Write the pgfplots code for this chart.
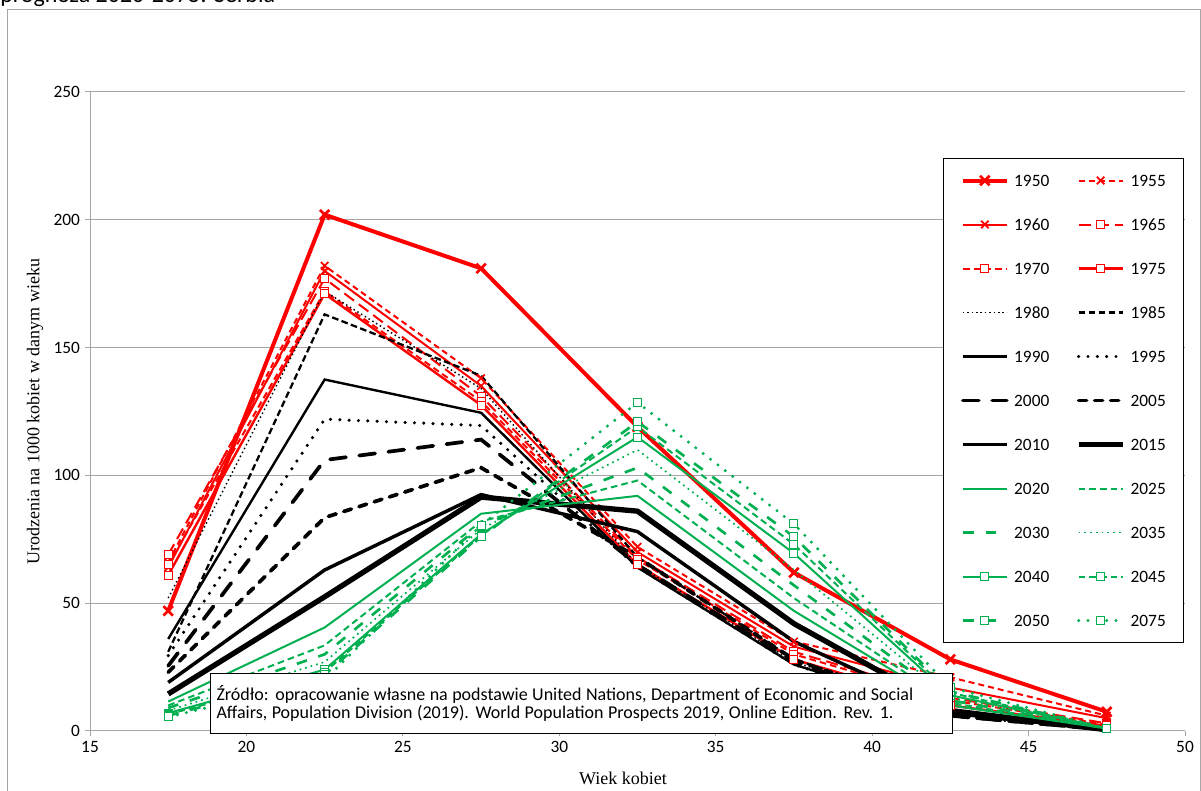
\documentclass[border=0pt]{standalone}
\usepackage{fontspec}
\setmainfont{Carlito}
\newfontfamily\timesf{Liberation Serif}
\usepackage{pgfplots}
\usepackage{pgfplotstable}
\pgfplotsset{compat=1.18}
\definecolor{exred}{HTML}{FF0000}
\definecolor{exgreen}{HTML}{00B050}
\definecolor{gridgray}{HTML}{A6A6A6}

% age groups 15-19 ... 45-49 plotted at their midpoints
\pgfplotstableread{
age  y1950 y1955 y1960 y1965 y1970 y1975 y1980 y1985 y1990 y1995 y2000
17.5 47    66    64    69    65    61    52    31    36    29.5  25.5
22.5 202   182   180   177   172   171   172   163   137.5 122   106
27.5 181   138   135   131   129   127.5 134   139   124.5 119.5 114
32.5 119   72    70    68    67    65    65    68    64    64    65
37.5 62    35    33    31    30    28    27    28    26    26    27
42.5 28    21    17    13    12    10    8     8     7     6     6
47.5 7.5   6     5     3     2.5   2     1     1     1     0.5   0.5
}\dataA
\pgfplotstableread{
age  y2005 y2010 y2015 y2020 y2025 y2030 y2035 y2040 y2045 y2050 y2075
17.5 23    19    14.5  11.5  10    9     8     7     6.5   6     5.5
22.5 83.5  63    52.5  40.5  33.5  30    27    24    23    22    20
27.5 103   92.5  91.5  85    82    80.5  79    77    76.5  76    80.5
32.5 68    78    86    92    98    103   110   115   119   121   128.5
37.5 28    35    42    47    52    57    63    69.5  73    76    81
42.5 6     7     8     10    11    12    13    14    15    15.5  17
47.5 0.5   0.5   0.5   1     1     1     1     1     1     1     1
}\dataB

\begin{document}
\begin{tikzpicture}
\begin{axis}[
  at={(0,0)}, anchor=south west,
  scale only axis, width=821.25pt, height=479.25pt,
  xmin=15, xmax=50, ymin=0, ymax=250,
  xtick={15,20,...,50}, ytick={0,50,...,250},
  axis x line*=bottom, axis y line*=left,
  axis line style={draw=gridgray, line width=0.75pt, -},
  major tick style={draw=gridgray, line width=0.75pt},
  tick align=outside, major tick length=4pt,
  ymajorgrids, grid style={draw=gridgray, line width=0.75pt},
  tick label style={font=\fontsize{13}{15}\selectfont, black},
  /pgf/number format/assume math mode=true,
  clip=false,
  every axis y label/.style={at={(axis description cs:0,0.5)}, xshift=-41.25pt, rotate=90, anchor=center},
  every axis x label/.style={at={(axis description cs:0.5,0)}, yshift=-35.25pt, xshift=-10.9pt, anchor=center},
  ylabel={\timesf\fontsize{13.5}{15}\selectfont Urodzenia na 1000 kobiet w danym wieku},
  xlabel={\timesf\fontsize{13.5}{15}\selectfont Wiek kobiet},
  legend columns=2,
  legend cell align=left,
  legend image code/.code={\draw[mark repeat=2,mark phase=2] plot coordinates {(0pt,0pt) (16.5pt,0pt) (33pt,0pt)};},
  legend style={at={(0.779,0.8967)}, anchor=north west, draw=black, line width=0.75pt,
    font=\fontsize{13}{15}\selectfont, inner xsep=13pt, inner ysep=12pt,
    nodes={inner sep=0pt, text height=9pt, text depth=0pt},
    row sep=24pt,
    /tikz/every odd column/.append style={column sep=4pt},
    /tikz/every even column/.append style={column sep=20pt}},
  sq/.style={mark=square*, mark size=3pt, mark options={solid, fill=white, line width=0.8pt}},
  xm/.style={mark=x, mark size=4pt, mark options={solid, line width=1.3pt}},
]
\addplot[exred, line width=3pt, mark=x, mark size=5pt, mark options={line width=2pt}] table[x=age,y=y1950]{\dataA};
\addlegendentry{1950}
\addplot[exred, line width=1.5pt, dash pattern=on 4.5pt off 3pt, xm] table[x=age,y=y1955]{\dataA};
\addlegendentry{1955}
\addplot[exred, line width=1.5pt, xm] table[x=age,y=y1960]{\dataA};
\addlegendentry{1960}
\addplot[exred, line width=1.5pt, dash pattern=on 9pt off 4.5pt, sq] table[x=age,y=y1965]{\dataA};
\addlegendentry{1965}
\addplot[exred, line width=1.5pt, dash pattern=on 5pt off 3pt, sq] table[x=age,y=y1970]{\dataA};
\addlegendentry{1970}
\addplot[exred, line width=1.8pt, sq] table[x=age,y=y1975]{\dataA};
\addlegendentry{1975}
\addplot[black, line width=1.1pt, dash pattern=on 1.1pt off 2.2pt] table[x=age,y=y1980]{\dataA};
\addlegendentry{1980}
\addplot[black, line width=1.7pt, dash pattern=on 5pt off 2.5pt] table[x=age,y=y1985]{\dataA};
\addlegendentry{1985}
\addplot[black, line width=1.8pt] table[x=age,y=y1990]{\dataA};
\addlegendentry{1990}
\addplot[black, line width=2.6pt, line cap=round, dash pattern=on 0pt off 7pt] table[x=age,y=y1995]{\dataA};
\addlegendentry{1995}
\addplot[black, line width=2.8pt, line cap=round, dash pattern=on 12pt off 10pt] table[x=age,y=y2000]{\dataA};
\addlegendentry{2000}
\addplot[black, line width=2.8pt, line cap=round, dash pattern=on 6pt off 6pt] table[x=age,y=y2005]{\dataB};
\addlegendentry{2005}
\addplot[black, line width=2.6pt] table[x=age,y=y2010]{\dataB};
\addlegendentry{2010}
\addplot[black, line width=4pt] table[x=age,y=y2015]{\dataB};
\addlegendentry{2015}
\addplot[exgreen, line width=1.5pt] table[x=age,y=y2020]{\dataB};
\addlegendentry{2020}
\addplot[exgreen, line width=1.5pt, dash pattern=on 5pt off 3pt] table[x=age,y=y2025]{\dataB};
\addlegendentry{2025}
\addplot[exgreen, line width=2pt, dash pattern=on 8pt off 9pt] table[x=age,y=y2030]{\dataB};
\addlegendentry{2030}
\addplot[exgreen, line width=1.3pt, dash pattern=on 1.3pt off 3pt] table[x=age,y=y2035]{\dataB};
\addlegendentry{2035}
\addplot[exgreen, line width=1.5pt, sq] table[x=age,y=y2040]{\dataB};
\addlegendentry{2040}
\addplot[exgreen, line width=1.5pt, dash pattern=on 5pt off 3pt, sq] table[x=age,y=y2045]{\dataB};
\addlegendentry{2045}
\addplot[exgreen, line width=2pt, dash pattern=on 8pt off 9pt, sq] table[x=age,y=y2050]{\dataB};
\addlegendentry{2050}
\addplot[exgreen, line width=2.5pt, line cap=round, dash pattern=on 0pt off 7pt, sq] table[x=age,y=y2075]{\dataB};
\addlegendentry{2075}
\end{axis}
% source note
\node[draw=black, fill=white, line width=0.75pt, anchor=north west, minimum width=556.5pt, minimum height=45pt,
  align=left, inner xsep=4.5pt, text width=547.5pt] at (90pt,43.5pt)
  {\fontsize{13.5}{16.5}\selectfont Źródło: opracowanie własne na podstawie United Nations, Department of Economic and Social\\
   Affairs, Population Division (2019). World Population Prospects 2019, Online Edition. Rev. 1.};
% chart area frame and cut title
\draw[gridgray, line width=0.75pt] (-61.5pt,540.75pt) rectangle (832.5pt,-60pt);
\node[anchor=base west, inner sep=0pt, font=\fontsize{18}{20}\selectfont] at (-67.5pt,546pt) {prognoza 2020-2075: Serbia};
\pgfresetboundingbox
\path[use as bounding box] (-67.5pt,-45pt) rectangle (833.25pt,548.25pt);
\end{tikzpicture}
\end{document}
